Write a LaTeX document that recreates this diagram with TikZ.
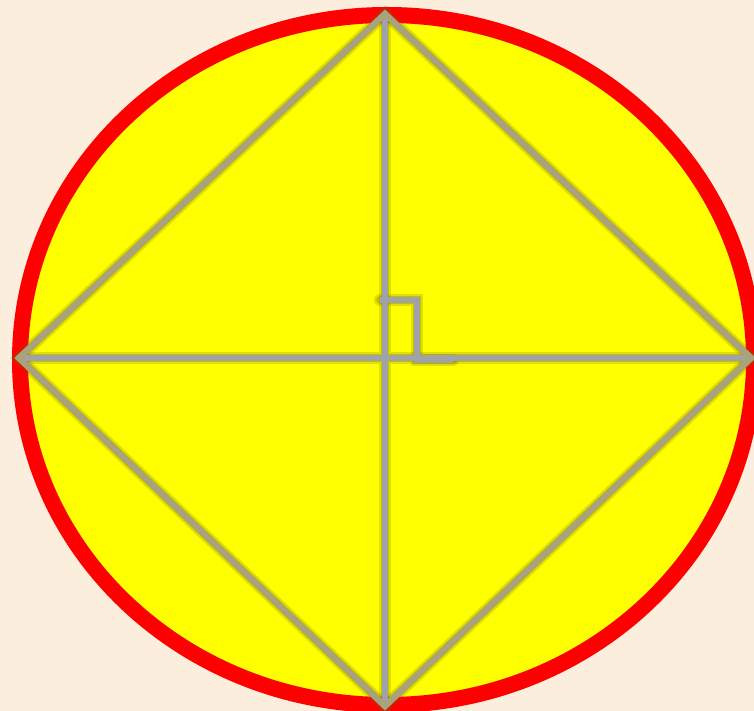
\documentclass[tikz,border=0pt]{standalone}
\usetikzlibrary{calc}
\definecolor{bgc}{RGB}{251,238,220}
\definecolor{edgec}{RGB}{168,163,122}
\definecolor{axisc}{RGB}{160,162,170}
\definecolor{shadc}{RGB}{110,100,0}
\definecolor{yel}{RGB}{255,255,0}
\definecolor{redc}{RGB}{255,0,0}
\tikzset{
  shadowline/.style={draw=shadc, line width=12pt, opacity=0.2, line cap=round},
  shadowline2/.style={draw=shadc, line width=8pt, opacity=0.25, line cap=round},
  edge/.style={draw=edgec, line width=6.5pt, line join=miter},
  axis/.style={draw=axisc, line width=6.5pt},
}
\begin{document}
\begin{tikzpicture}[x=1pt,y=1pt]
\fill[bgc] (0,0) rectangle (754,711);
\useasboundingbox (0,0) rectangle (754,711);
\begin{scope}
\clip (0,0) rectangle (754,711);
\draw[redc, fill=yel, line width=16pt] (387,351) ellipse [x radius=367, y radius=345];
\coordinate (T) at (385,697);
\coordinate (B) at (385,5);
\coordinate (L) at (19,353);
\coordinate (R) at (751,353);
\coordinate (O) at (385,353);
\coordinate (m1) at (380,411);
\coordinate (m2) at (417,411);
\coordinate (m3) at (417,351);
\coordinate (m4) at (453,351);
% shadows
\begin{scope}[shift={(3,-5)}]
\draw[shadowline] (T) -- (R) -- (B) -- (L) -- cycle;
\draw[shadowline] (T) -- (B) (L) -- (R);
\draw[shadowline] (m1) -- (m2) -- (m3) -- (m4);
\end{scope}
\begin{scope}[shift={(2,-3)}]
\draw[shadowline2] (T) -- (R) -- (B) -- (L) -- cycle;
\draw[shadowline2] (T) -- (B) (L) -- (R);
\draw[shadowline2] (m1) -- (m2) -- (m3) -- (m4);
\end{scope}
\draw[axis] (T) -- (B);
\draw[axis] (L) -- (R);
\draw[axis] (m1) -- (m2) -- (m3) -- (m4);
\draw[edge] (T) -- (R) -- (B) -- (L) -- cycle;
\end{scope}
\end{tikzpicture}
\end{document}
